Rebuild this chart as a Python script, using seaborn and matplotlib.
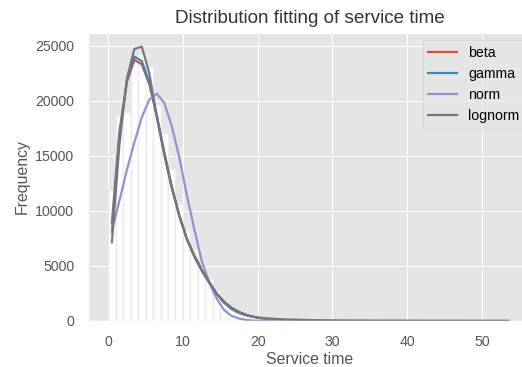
import matplotlib
matplotlib.use("Agg")
import matplotlib.pyplot as plt
import seaborn as sns
import numpy as np
import pandas as pd

plt.style.use("ggplot")
plt.rcParams["font.family"] = ["Liberation Sans", "DejaVu Sans"]

# ---- data ----
bin_edges = list(range(0, 55))  # histogram bins of width 1, 0..54

hist_counts = [11900, 18600, 19000, 24000, 24300, 23100, 19600, 17100, 13800, 10600,
               8300, 6500, 5000, 3800, 2700, 1900, 1300, 900, 620, 430,
               310, 230, 170, 130, 100, 80, 62, 50, 40, 32,
               26, 21, 17, 14, 12, 10, 8, 7, 6, 5,
               4, 4, 3, 3, 2, 2, 2, 1, 1, 1,
               1, 1, 1, 1]

beta_vals = [8900, 17200, 21700, 23700, 23300, 21500, 18600, 15300, 12200, 9600,
             7500, 5900, 4600, 3500, 2500, 1750, 1200, 820, 550, 370,
             245, 160, 105, 68, 44, 28, 18, 12, 8, 5,
             3, 2, 1, 1, 1, 0, 0, 0, 0, 0,
             0, 0, 0, 0, 0, 0, 0, 0, 0, 0,
             0, 0, 0, 0]

gamma_vals = [8100, 16800, 21800, 24000, 23600, 21700, 18700, 15300, 12200, 9600,
              7500, 5900, 4600, 3500, 2500, 1750, 1200, 820, 550, 370,
              245, 160, 105, 68, 44, 28, 18, 12, 8, 5,
              3, 2, 1, 1, 1, 0, 0, 0, 0, 0,
              0, 0, 0, 0, 0, 0, 0, 0, 0, 0,
              0, 0, 0, 0]

norm_vals = [8200, 10900, 13700, 16200, 18500, 20100, 20650, 19800, 17700, 14900,
             11500, 8400, 5500, 3500, 2050, 1000, 470, 220, 90, 30,
             10, 2, 0, 0, 0, 0, 0, 0, 0, 0,
             0, 0, 0, 0, 0, 0, 0, 0, 0, 0,
             0, 0, 0, 0, 0, 0, 0, 0, 0, 0,
             0, 0, 0, 0]

lognorm_vals = [7150, 16000, 22000, 24700, 24900, 22500, 18500, 15100, 12100, 9600,
                7500, 6000, 4700, 3600, 2450, 1650, 1080, 720, 500, 370,
                285, 228, 186, 155, 130, 110, 95, 80, 68, 58,
                50, 43, 37, 32, 28, 24, 21, 18, 16, 14,
                12, 11, 9, 8, 7, 6, 6, 5, 4, 4,
                3, 3, 3, 2]

series_names = ["beta", "gamma", "norm", "lognorm"]
series_colors = ["#E24A33", "#348ABD", "#988ED5", "#777777"]

edges = np.array(bin_edges, dtype=float)
centers = (edges[:-1] + edges[1:]) / 2

hist_df = pd.DataFrame({"t": centers, "count": hist_counts})

fig = plt.figure(figsize=(5.22, 3.67), dpi=100)
ax = fig.add_axes([88 / 522, 1 - 321 / 367, 444 / 522, 288 / 367])

sns.histplot(data=hist_df, x="t", weights="count", bins=bin_edges, color="white",
             edgecolor="#EBEBEB", linewidth=1.0, alpha=1, ax=ax)

for name, vals, col in zip(series_names,
                           [beta_vals, gamma_vals, norm_vals, lognorm_vals],
                           series_colors):
    sns.lineplot(x=centers, y=vals, label=name, color=col, linewidth=1.6, ax=ax)

ax.set_title("Distribution fitting of service time", fontsize=13.6,
             color="#333333", pad=7.5)
ax.set_xlabel("Service time", fontsize=11.4, color="#555555", labelpad=2.5)
ax.set_ylabel("Frequency", fontsize=11.4, color="#555555")
ax.tick_params(axis="both", length=0, pad=10, labelsize=10.2, colors="#555555")
ax.legend(loc="upper right", fontsize=10.2)

fig.savefig("out.png", dpi=100)
